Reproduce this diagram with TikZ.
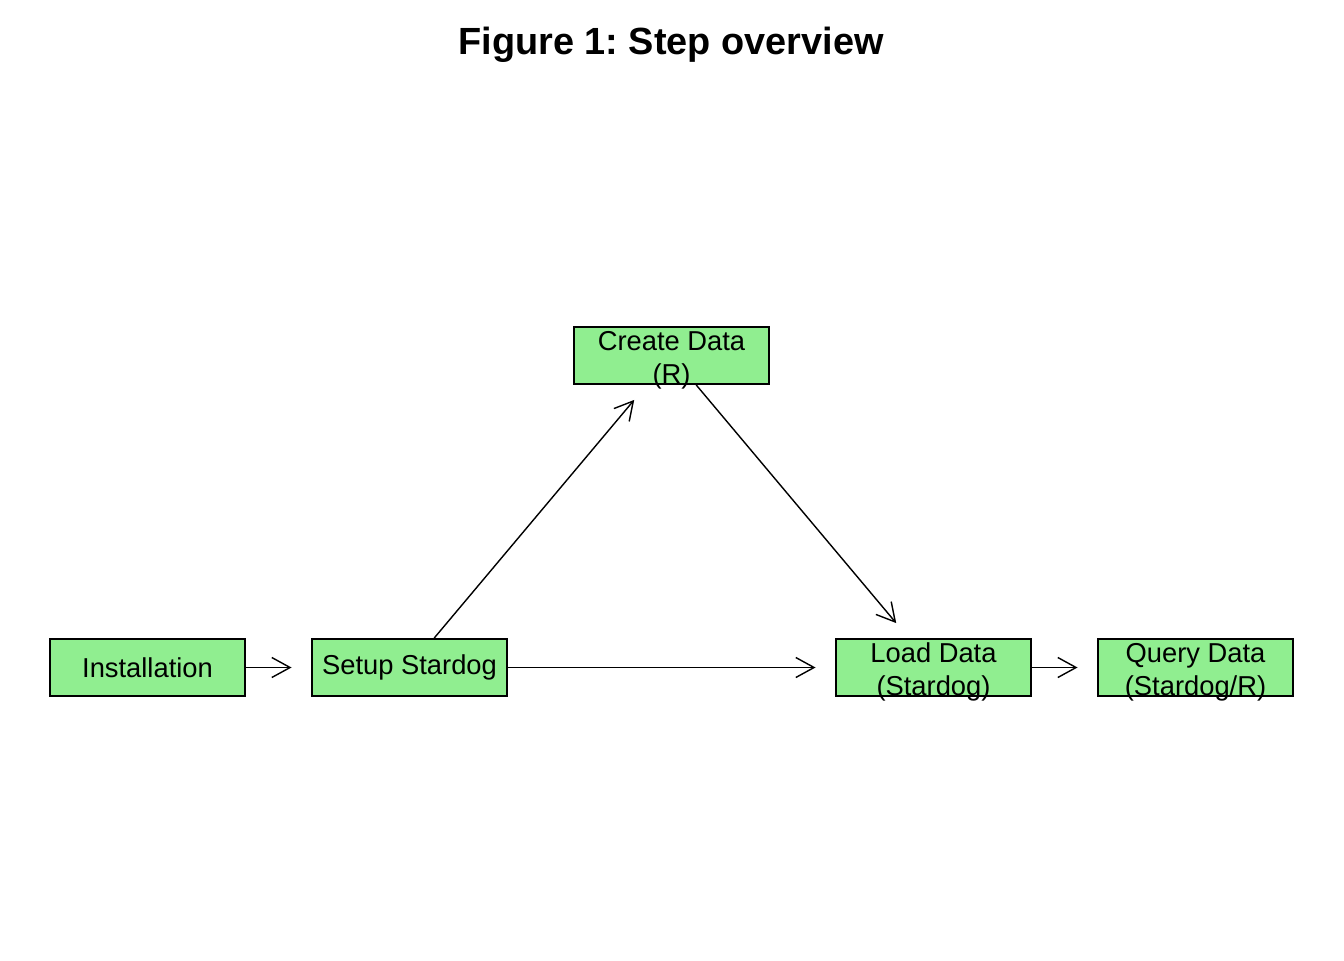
\documentclass[tikz,border=0pt]{standalone}
\usepackage{fontspec}
\setmainfont{Liberation Sans}
\frenchspacing
\usetikzlibrary{arrows.meta}
\definecolor{boxgreen}{HTML}{90EE90}

\begin{document}
\begin{tikzpicture}[x=0.75pt, y=-0.75pt,
    stepbox/.style={rectangle, draw, fill=boxgreen, line width=1.5pt, minimum width=146.25pt, minimum height=42.75pt, inner sep=0pt, align=center, font=\fontsize{20.5pt}{24.75pt}\selectfont},
    twoline/.style={text height=42pt, text depth=0pt},
    flow/.style={-{Straight Barb[length=13.7pt, width=15pt]}, line width=1.05pt, shorten >=14.6pt}]
    \useasboundingbox (0, 0) rectangle (1344, 960);
    \node at (671, 54) [anchor=base, font=\fontsize{28.4pt}{34pt}\selectfont\bfseries] (title) {Figure 1: Step overview};

    \node at (147.5, 667.5) [stepbox] (inst) {Installation};
    \node at (409.5, 667.5) [stepbox] (setup) {Setup Stardog};
    \node at (671.5, 355.5) [stepbox, twoline] (create) {Create Data\\(R)};
    \node at (933.5, 667.5) [stepbox, twoline] (load) {Load Data\\(Stardog)};
    \node at (1195.5, 667.5) [stepbox, twoline] (query) {Query Data\\(Stardog/R)};

    \draw[flow] (inst) -- (setup);
    \draw[flow] (setup) -- (create);
    \draw[flow] (setup) -- (load);
    \draw[flow] (create) -- (load);
    \draw[flow] (load) -- (query);
\end{tikzpicture}
\end{document}
